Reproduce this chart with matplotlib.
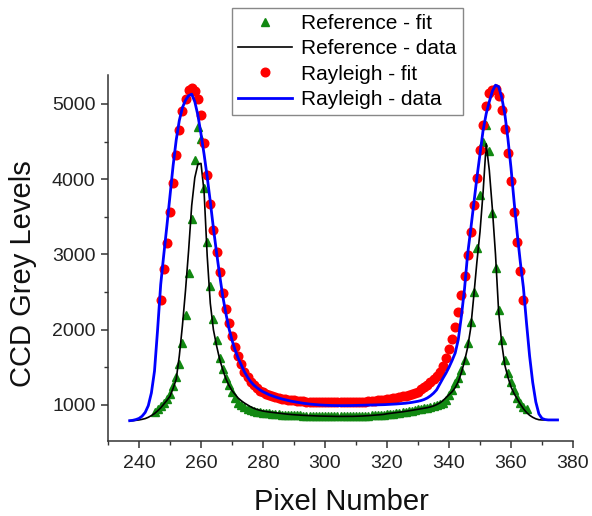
import numpy as np
import matplotlib
matplotlib.use("Agg")
import matplotlib.pyplot as plt
from matplotlib.ticker import MultipleLocator

plt.rcParams['font.family'] = ['Liberation Sans', 'DejaVu Sans']

# ---------------- data ----------------
data_start, data_end = 237, 375          # pixel range of measured curves
ref_fit_start, ref_fit_end = 245, 365    # pixel range of reference fit points
ray_fit_start, ray_fit_end = 247, 364    # pixel range of Rayleigh fit points

ref_data = [
    790, 790, 795, 800, 808, 818, 835, 858, 885, 920,            # 237-246
    960, 1010, 1060, 1115, 1220, 1340, 1650, 2050, 2520, 3050,   # 247-256
    3650, 4020, 4200, 4210, 3830, 2980, 2350, 2000, 1790, 1610,  # 257-266
    1470, 1350, 1260, 1190, 1140, 1090, 1055, 1025, 1000, 975,   # 267-276
    955, 940, 928, 918, 911, 905, 900, 895, 890, 884,            # 277-286
    880, 876, 872, 869, 866, 863, 861, 859, 857, 855,            # 287-296
    854, 852, 851, 850, 849, 848, 848, 847, 847, 847,            # 297-306
    847, 848, 848, 849, 850, 852, 854, 857, 860, 863,            # 307-316
    866, 870, 874, 882, 887, 892, 897, 902, 908, 914,            # 317-326
    920, 927, 934, 941, 948, 955, 963, 973, 986, 1003,           # 327-336
    1025, 1055, 1095, 1135, 1175, 1230, 1310, 1430, 1580, 1760,  # 337-346
    2020, 2450, 2900, 3300, 3830, 4470, 4120, 3600, 3000, 2250,  # 347-356
    1820, 1530, 1370, 1240, 1150, 1080, 1010, 950, 900, 862,     # 357-366
    835, 815, 803, 800, 800, 800, 800, 800, 800,                 # 367-375
]

ray_data = [
    790, 795, 805, 820, 850, 900, 990, 1160, 1450, 2000,         # 237-246
    2600, 3000, 3380, 3780, 4180, 4520, 4780, 4950, 5050, 5110,  # 247-256
    5130, 5030, 4850, 4600, 4330, 4030, 3700, 3350, 3030, 2730,  # 257-266
    2450, 2220, 2020, 1860, 1730, 1620, 1530, 1440, 1370, 1310,  # 267-276
    1265, 1230, 1200, 1175, 1155, 1135, 1120, 1105, 1092, 1080,  # 277-286
    1070, 1060, 1050, 1042, 1035, 1028, 1022, 1016, 1011, 1007,  # 287-296
    1003, 1000, 997, 995, 993, 992, 991, 990, 990, 990,          # 297-306
    990, 991, 992, 993, 994, 995, 996, 997, 998, 999,            # 307-316
    1000, 1001, 1003, 1005, 1007, 1009, 1012, 1015, 1018, 1022,  # 317-326
    1027, 1033, 1040, 1048, 1058, 1072, 1092, 1120, 1155, 1200,  # 327-336
    1275, 1350, 1420, 1500, 1590, 1690, 1870, 2180, 2540, 3000,  # 337-346
    3330, 3680, 4020, 4340, 4650, 4870, 5030, 5170, 5250, 5230,  # 347-356
    5090, 4870, 4540, 4150, 3700, 3280, 2900, 2560, 2090, 1650,  # 357-366
    1300, 1040, 880, 820, 805, 800, 800, 800, 800,               # 367-375
]

ref_fit = [
    900, 940, 985, 1030, 1080, 1150, 1245, 1376, 1541, 1820,     # 245-254
    2196, 2750, 3470, 4256, 4699, 4535, 3880, 3170, 2582, 2139,  # 255-264
    1864, 1621, 1474, 1355, 1266, 1177, 1089, 1023, 995, 970,    # 265-274
    950, 935, 922, 912, 904, 897, 891, 886, 882, 878,            # 275-284
    875, 872, 869, 867, 865, 863, 861, 860, 858, 857,            # 285-294
    856, 855, 854, 853, 852, 852, 851, 851, 851, 851,            # 295-304
    851, 851, 851, 852, 852, 853, 854, 855, 856, 857,            # 305-314
    859, 861, 864, 868, 872, 876, 880, 885, 890, 895,            # 315-324
    906, 912, 918, 925, 932, 940, 948, 956, 965, 975,            # 325-334
    987, 1000, 1012, 1023, 1066, 1133, 1199, 1288, 1355, 1465,   # 335-344
    1598, 1820, 2107, 2506, 3082, 3790, 4500, 4720, 4370, 3550,  # 345-354
    2820, 2260, 1860, 1600, 1420, 1310, 1200, 1090, 1020, 970,   # 355-364
    940,                                                         # 365
]

ray_fit = [
    2400, 2800, 3150, 3560, 3950, 4320, 4650, 4900, 5070, 5180,  # 247-256
    5210, 5170, 5060, 4850, 4480, 4060, 3670, 3320, 3030, 2760,  # 257-266
    2490, 2280, 2090, 1920, 1775, 1650, 1540, 1440, 1370, 1310,  # 267-276
    1260, 1220, 1190, 1165, 1145, 1128, 1114, 1102, 1092, 1083,  # 277-286
    1076, 1070, 1065, 1060, 1056, 1052, 1048, 1045, 1043, 1041,  # 287-296
    1039, 1037, 1036, 1035, 1034, 1033, 1033, 1033, 1033, 1033,  # 297-306
    1034, 1035, 1036, 1038, 1040, 1042, 1045, 1048, 1051, 1055,  # 307-316
    1059, 1064, 1069, 1075, 1081, 1088, 1096, 1105, 1114, 1124,  # 317-326
    1135, 1147, 1160, 1175, 1205, 1235, 1265, 1300, 1340, 1385,  # 327-336
    1440, 1520, 1620, 1740, 1880, 2040, 2240, 2460, 2710, 2990,  # 337-346
    3300, 3660, 4020, 4390, 4720, 4970, 5140, 5190, 5200, 5100,  # 347-356
    4920, 4670, 4350, 3970, 3570, 3170, 2780, 2400,              # 357-364
]

labels = ["Reference - fit", "Reference - data", "Rayleigh - fit", "Rayleigh - data"]
x_ticks = [240, 260, 280, 300, 320, 340, 360, 380]
y_ticks = [1000, 2000, 3000, 4000, 5000]

px_data = np.arange(data_start, data_end + 1)
px_ref_fit = np.arange(ref_fit_start, ref_fit_end + 1)
px_ray_fit = np.arange(ray_fit_start, ray_fit_end + 1)

# ---------------- figure ----------------
fig = plt.figure(figsize=(5.92, 5.16), dpi=100)
ax = fig.add_axes([108 / 592, 1 - 441 / 516, (573 - 108) / 592, (441 - 75) / 516])

h1, = ax.plot(px_ref_fit, ref_fit, linestyle='none', marker='^', ms=6.2,
              color='#118811', mec='#118811', zorder=2)
h2, = ax.plot(px_data, ref_data, color='black', lw=1.2, zorder=3)
h3, = ax.plot(px_ray_fit, ray_fit, linestyle='none', marker='o', ms=6.2,
              color='#ff0000', mec='#ff0000', zorder=4)
h4, = ax.plot(px_data, ray_data, color='#0000ff', lw=2.0, zorder=5)

ax.set_xlim(230, 380)
ax.set_ylim(520, 5385)
ax.set_xticks(x_ticks)
ax.set_yticks(y_ticks)
ax.xaxis.set_minor_locator(MultipleLocator(10))
ax.yaxis.set_minor_locator(MultipleLocator(500))

for s in ['top', 'right']:
    ax.spines[s].set_visible(False)
for s in ['left', 'bottom']:
    ax.spines[s].set_color('#333333')
    ax.spines[s].set_linewidth(1.1)

ax.tick_params(which='major', direction='out', length=5, width=1.1,
               color='#333333', labelsize=14, labelcolor='#222222', pad=4)
ax.tick_params(which='minor', direction='out', length=2.8, width=1.0, color='#333333')
ax.tick_params(axis='x', which='major', pad=5)

ax.set_xlabel("Pixel Number", fontsize=21, color='#111111', va='center')
ax.xaxis.set_label_coords((341 - 108) / 465, (441 - 502) / 366)
ax.set_ylabel("CCD Grey Levels", fontsize=21, color='#111111', va='center')
ax.yaxis.set_label_coords((23 - 108) / 465, (441 - 274) / 366)

leg = fig.legend([h1, h2, h3, h4], labels, loc='upper left',
                 bbox_to_anchor=(232 / 592, 1 - 8 / 516), borderaxespad=0,
                 fontsize=15, frameon=True, fancybox=False, framealpha=1,
                 edgecolor='#888888', handlelength=2.6, handletextpad=0.4,
                 labelspacing=0.3, borderpad=0.3, numpoints=1)
leg.get_frame().set_linewidth(1.0)

fig.savefig("out.png", dpi=100)
